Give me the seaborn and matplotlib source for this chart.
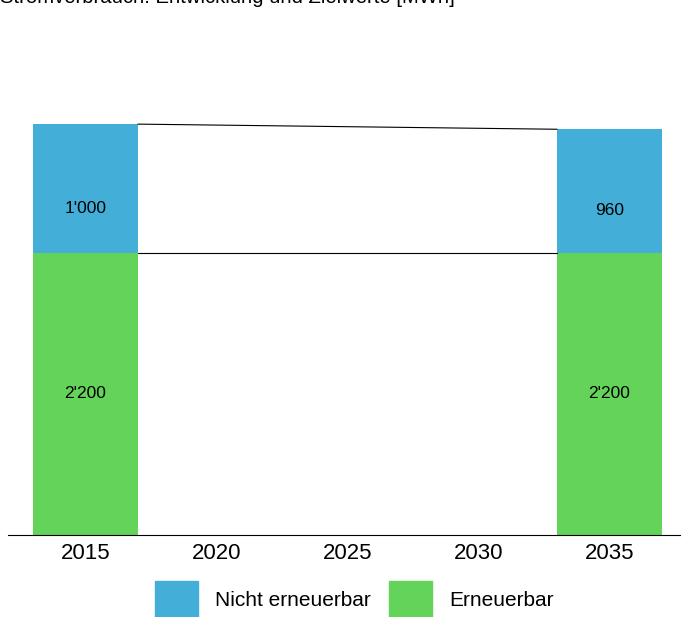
import seaborn as sns
import matplotlib.pyplot as plt
from matplotlib.patches import Patch
import pandas as pd

# data
jahre = ['2015', '2020', '2025', '2030', '2035']
daten_jahre = ['2015', '2035']
erneuerbar = [2200, 2200]
nicht_erneuerbar = [1000, 960]
label_ern = ["2'200", "2'200"]
label_nicht = ["1'000", "960"]

blau = '#43afd8'
gruen = '#64d35a'

df = pd.DataFrame({'Jahr': daten_jahre,
                   'Erneuerbar': erneuerbar,
                   'Nicht erneuerbar': nicht_erneuerbar})
df['Total'] = df['Erneuerbar'] + df['Nicht erneuerbar']

sns.set_style('white')
plt.rcParams['font.family'] = ['Liberation Sans', 'DejaVu Sans']
plt.rcParams['text.color'] = 'black'
plt.rcParams['xtick.color'] = 'black'

fig = plt.figure(figsize=(6.81, 6.17), dpi=100)
ax = fig.add_axes([8 / 681, 82 / 617, 1 - 8 / 681, (535 - 40) / 617])

# stacked: total first (blue), then renewable on top of it (green)
sns.barplot(data=df, x='Jahr', y='Total', order=jahre, color=blau,
            saturation=1, width=0.8, linewidth=0, edgecolor='none', ax=ax)
sns.barplot(data=df, x='Jahr', y='Erneuerbar', order=jahre, color=gruen,
            saturation=1, width=0.8, linewidth=0, edgecolor='none', ax=ax)

# connecting lines between the two bars
i0, i1 = jahre.index(daten_jahre[0]), jahre.index(daten_jahre[1])
ax.plot([i0 + 0.4, i1 - 0.4], [df['Total'][0], df['Total'][1]],
        color='black', lw=0.8)
ax.plot([i0 + 0.4, i1 - 0.4], [df['Erneuerbar'][0], df['Erneuerbar'][1]],
        color='black', lw=0.8)

for k, j in enumerate(daten_jahre):
    xi = jahre.index(j)
    ax.text(xi, erneuerbar[k] / 2, label_ern[k], ha='center', va='center', fontsize=12.5)
    ax.text(xi, erneuerbar[k] + nicht_erneuerbar[k] * 0.34, label_nicht[k],
            ha='center', va='center', fontsize=12.5)

ax.set_xlim(-0.5916, 4.546)
ax.set_ylim(0, 495 / 0.1284)
ax.set_xlabel('')
ax.set_ylabel('')
ax.set_yticks([])
ax.tick_params(axis='x', length=0, labelsize=16, pad=6, labelcolor='black')
sns.despine(ax=ax, left=True, top=True, right=True)
ax.spines['bottom'].set_color('black')
ax.spines['bottom'].set_linewidth(0.8)

fig.text(0.0, 1 - 3 / 617, 'Stromverbrauch: Entwicklung und Zielwerte [MWh]',
         fontsize=14.6, va='baseline', ha='left')

handles = [Patch(color=blau), Patch(color=gruen)]
fig.legend(handles, ['Nicht erneuerbar', 'Erneuerbar'], loc='lower left',
           bbox_to_anchor=(155 / 681, 0), ncol=2, frameon=False, fontsize=15,
           handlelength=2.07, handleheight=2.27, handletextpad=0.82,
           columnspacing=0.87, borderpad=0, borderaxespad=0)

fig.savefig('out.png', dpi=100)
